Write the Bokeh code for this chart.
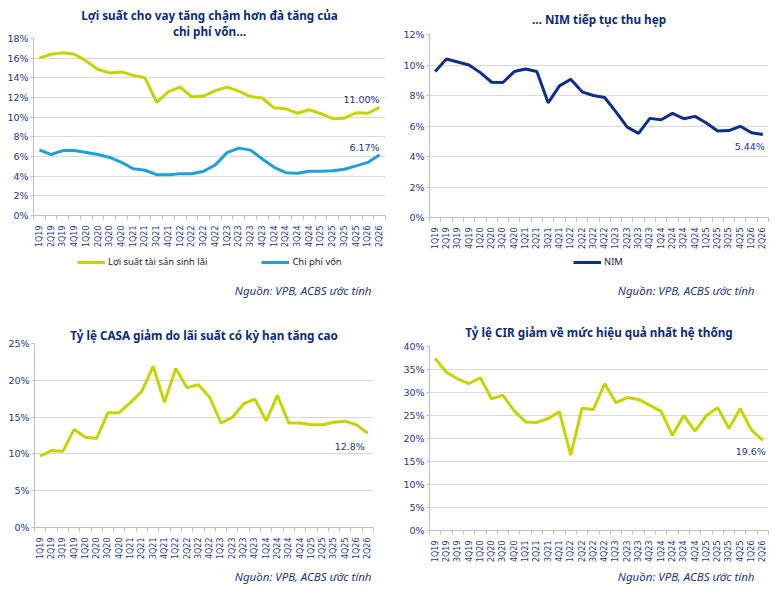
import numpy as np
from bokeh.core.properties import value
from bokeh.embed import file_html
from bokeh.layouts import column, row
from bokeh.models import (ColumnDataSource, FixedTicker, Label, Legend, LegendItem,
                          PrintfTickFormatter, Range1d, Title)
from bokeh.plotting import figure
from bokeh.resources import INLINE

# quarters on the x axis
quarters = ["1Q19", "2Q19", "3Q19", "4Q19", "1Q20", "2Q20", "3Q20", "4Q20",
            "1Q21", "2Q21", "3Q21", "4Q21", "1Q22", "2Q22", "3Q22", "4Q22",
            "1Q23", "2Q23", "3Q23", "4Q23", "1Q24", "2Q24", "3Q24", "4Q24",
            "1Q25", "2Q25", "3Q25", "4Q25", "1Q26", "2Q26"]

# values in %
asset_yield = [16.0, 16.4, 16.55, 16.4, 15.7, 14.85, 14.5, 14.6, 14.25, 14.0,
               11.5, 12.6, 13.05, 12.05, 12.15, 12.7, 13.05, 12.65, 12.1, 11.95,
               10.95, 10.85, 10.4, 10.75, 10.35, 9.85, 9.9, 10.45, 10.4, 11.0]
cost_of_funds = [6.67, 6.2, 6.6, 6.6, 6.4, 6.2, 5.9, 5.4, 4.75, 4.6,
                 4.15, 4.15, 4.25, 4.25, 4.5, 5.15, 6.4, 6.85, 6.65, 5.75,
                 4.9, 4.35, 4.3, 4.5, 4.5, 4.55, 4.7, 5.05, 5.4, 6.17]
nim = [9.57, 10.39, 10.2, 10.0, 9.5, 8.87, 8.85, 9.57, 9.74, 9.57,
       7.52, 8.63, 9.07, 8.24, 8.0, 7.87, 6.93, 5.93, 5.52, 6.5,
       6.41, 6.83, 6.48, 6.63, 6.2, 5.67, 5.7, 5.98, 5.56, 5.44]
casa = [9.7, 10.45, 10.35, 13.3, 12.25, 12.1, 15.6, 15.6, 17.0, 18.5,
        21.9, 17.0, 21.6, 19.0, 19.4, 17.7, 14.2, 14.95, 16.8, 17.45,
        14.5, 17.95, 14.2, 14.2, 13.95, 13.95, 14.3, 14.45, 13.95, 12.8]
cir = [37.4, 34.4, 32.95, 31.95, 33.2, 28.6, 29.4, 26.0, 23.6, 23.5,
       24.35, 25.8, 16.4, 26.6, 26.3, 31.9, 27.8, 28.9, 28.5, 27.2,
       25.9, 20.7, 25.0, 21.6, 25.0, 26.7, 22.2, 26.5, 21.8, 19.6]

yield_ticks = [0, 2, 4, 6, 8, 10, 12, 14, 16, 18]
nim_ticks = [0, 2, 4, 6, 8, 10, 12]
casa_ticks = [0, 5, 10, 15, 20, 25]
cir_ticks = [0, 5, 10, 15, 20, 25, 30, 35, 40]

source_text = "Nguồn: VPB, ACBS ước tính"

YELLOW = "#C8D400"
BLUE = "#1DA1DC"
NAVY = "#0C2D92"
TEXT = "#1D3497"
TITLE = "#0A2A8A"
GRID = "#D9D9D9"
AXIS = "#BFBFBF"

x = list(range(1, len(quarters) + 1))


def make_fig(width, height, ticks, borders):
    left, right, top, bottom = borders
    p = figure(width=width, height=height, x_range=Range1d(0.5, len(quarters) + 0.5),
               y_range=Range1d(0, ticks[-1]), output_backend="svg",
               toolbar_location=None, tools="", title=None,
               min_border_left=left, min_border_right=right,
               min_border_top=top, min_border_bottom=bottom)
    p.outline_line_color = None
    p.border_fill_color = None
    p.xgrid.grid_line_color = None
    p.ygrid.grid_line_color = GRID
    p.ygrid.ticker = FixedTicker(ticks=ticks)

    p.yaxis.ticker = FixedTicker(ticks=ticks)
    p.yaxis.formatter = PrintfTickFormatter(format="%d%%")
    p.yaxis.axis_line_color = AXIS
    p.yaxis.major_tick_line_color = AXIS
    p.yaxis.major_tick_in = 0
    p.yaxis.major_tick_out = 3
    p.yaxis.minor_tick_line_color = None
    p.yaxis.major_label_standoff = 2
    p.yaxis.major_label_text_font = "DejaVu Sans"
    p.yaxis.major_label_text_font_size = "9.5px"
    p.yaxis.major_label_text_color = TEXT

    p.xaxis.ticker = FixedTicker(ticks=x, minor_ticks=[i + 0.5 for i in range(len(quarters) + 1)])
    p.xaxis.major_label_overrides = {i: q for i, q in zip(x, quarters)}
    p.xaxis.major_label_orientation = np.pi / 2
    p.xaxis.axis_line_color = AXIS
    p.xaxis.major_tick_line_color = None
    p.xaxis.minor_tick_line_color = AXIS
    p.xaxis.minor_tick_in = 0
    p.xaxis.minor_tick_out = 4
    p.xaxis.major_label_standoff = 4
    p.xaxis.major_label_text_font = "DejaVu Sans"
    p.xaxis.major_label_text_font_size = "8px"
    p.xaxis.major_label_text_color = TEXT
    return p


# strip under a chart for legend and source; its frame lines up with the chart above
def footer(width, height):
    f = figure(width=width, height=height, x_range=Range1d(0, 1), y_range=Range1d(0, 1),
               output_backend="svg", toolbar_location=None, tools="", title=None,
               x_axis_location=None, y_axis_location=None,
               min_border_left=0, min_border_right=0, min_border_top=0, min_border_bottom=0)
    f.grid.grid_line_color = None
    f.outline_line_color = None
    f.border_fill_color = None
    return f


def add_title(p, text, standoff):
    p.add_layout(Title(text=text, align="center", standoff=standoff,
                       text_font="Noto Sans", text_font_size="11.7px",
                       text_font_style="bold", text_color=TITLE), "above")


def add_source(f, rx, cy):
    f.add_layout(Label(x=rx, y=cy, x_units="screen", y_units="screen", text=source_text,
                       text_align="right", text_baseline="middle",
                       text_font="Noto Sans", text_font_size="11.5px",
                       text_font_style="italic", text_color=TEXT))


def end_label(p, ys, label, y_off, x_off):
    src = ColumnDataSource(dict(x=[x[-1]], y=[ys[-1]], t=[label]))
    p.text(x="x", y="y", text="t", source=src, text_align="right",
           text_baseline="middle", x_offset=x_off, y_offset=y_off,
           text_font=value("DejaVu Sans"), text_font_size="9.5px", text_color=TEXT)


def add_legend(f, entries, loc):
    items = []
    for label, series, color in entries:
        # one point only: nothing is drawn in the strip, but the legend swatch gets its style
        r = f.line(x[:1], series[:1], line_color=color, line_width=3)
        items.append(LegendItem(label=label, renderers=[r]))
    f.add_layout(Legend(items=items, orientation="horizontal", location=loc,
                        border_line_color=None, background_fill_alpha=0,
                        label_text_font="Noto Sans", label_text_font_size="9.4px",
                        label_text_color="#222244", glyph_width=28, glyph_height=12,
                        label_height=12, label_standoff=3, spacing=54,
                        padding=0, margin=0))


# top left: asset yield vs cost of funds
p1 = make_fig(388, 254, yield_ticks, (33, 3, 38, 39))
p1.line(x, asset_yield, line_color=YELLOW, line_width=3)
p1.line(x, cost_of_funds, line_color=BLUE, line_width=3)
end_label(p1, asset_yield, "11.00%", -8, 0)
end_label(p1, cost_of_funds, "6.17%", -7, 0)
add_title(p1, "chi phí vốn…", 0)
add_title(p1, "Lợi suất cho vay tăng chậm hơn đà tăng của", -4)
f1 = footer(388, 46)
add_legend(f1, [("Lợi suất tài sản sinh lãi", asset_yield, YELLOW),
                ("Chi phí vốn", cost_of_funds, BLUE)], (44, 32))
add_source(f1, 338, 10)

# top right: NIM
p2 = make_fig(385, 254, nim_ticks, (41, 5, 33, 37))
p2.line(x, nim, line_color=NAVY, line_width=3)
end_label(p2, nim, "5.44%", 12, 2)
add_title(p2, "… NIM tiếp tục thu hẹp", 16)
f2 = footer(385, 46)
add_legend(f2, [("NIM", nim, NAVY)], (144, 32))
add_source(f2, 325, 10)

# bottom left: CASA
p3 = make_fig(388, 268, casa_ticks, (34, 15, 43, 41))
p3.line(x, casa, line_color=YELLOW, line_width=3)
end_label(p3, casa, "12.8%", 13, -3)
add_title(p3, "Tỷ lệ CASA giảm do lãi suất có kỳ hạn tăng cao", 2)
f3 = footer(388, 19)
add_source(f3, 337, 11)

# bottom right: CIR
p4 = make_fig(385, 268, cir_ticks, (41, 5, 46, 38))
p4.line(x, cir, line_color=YELLOW, line_width=3)
end_label(p4, cir, "19.6%", 11, 3)
add_title(p4, "Tỷ lệ CIR giảm về mức hiệu quả nhất hệ thống", 13)
f4 = footer(385, 19)
add_source(f4, 325, 11)

layout = column(row(column(p1, f1), column(p2, f2)),
                row(column(p3, f3), column(p4, f4)))
open("out.html", "w").write(file_html(layout, INLINE))
